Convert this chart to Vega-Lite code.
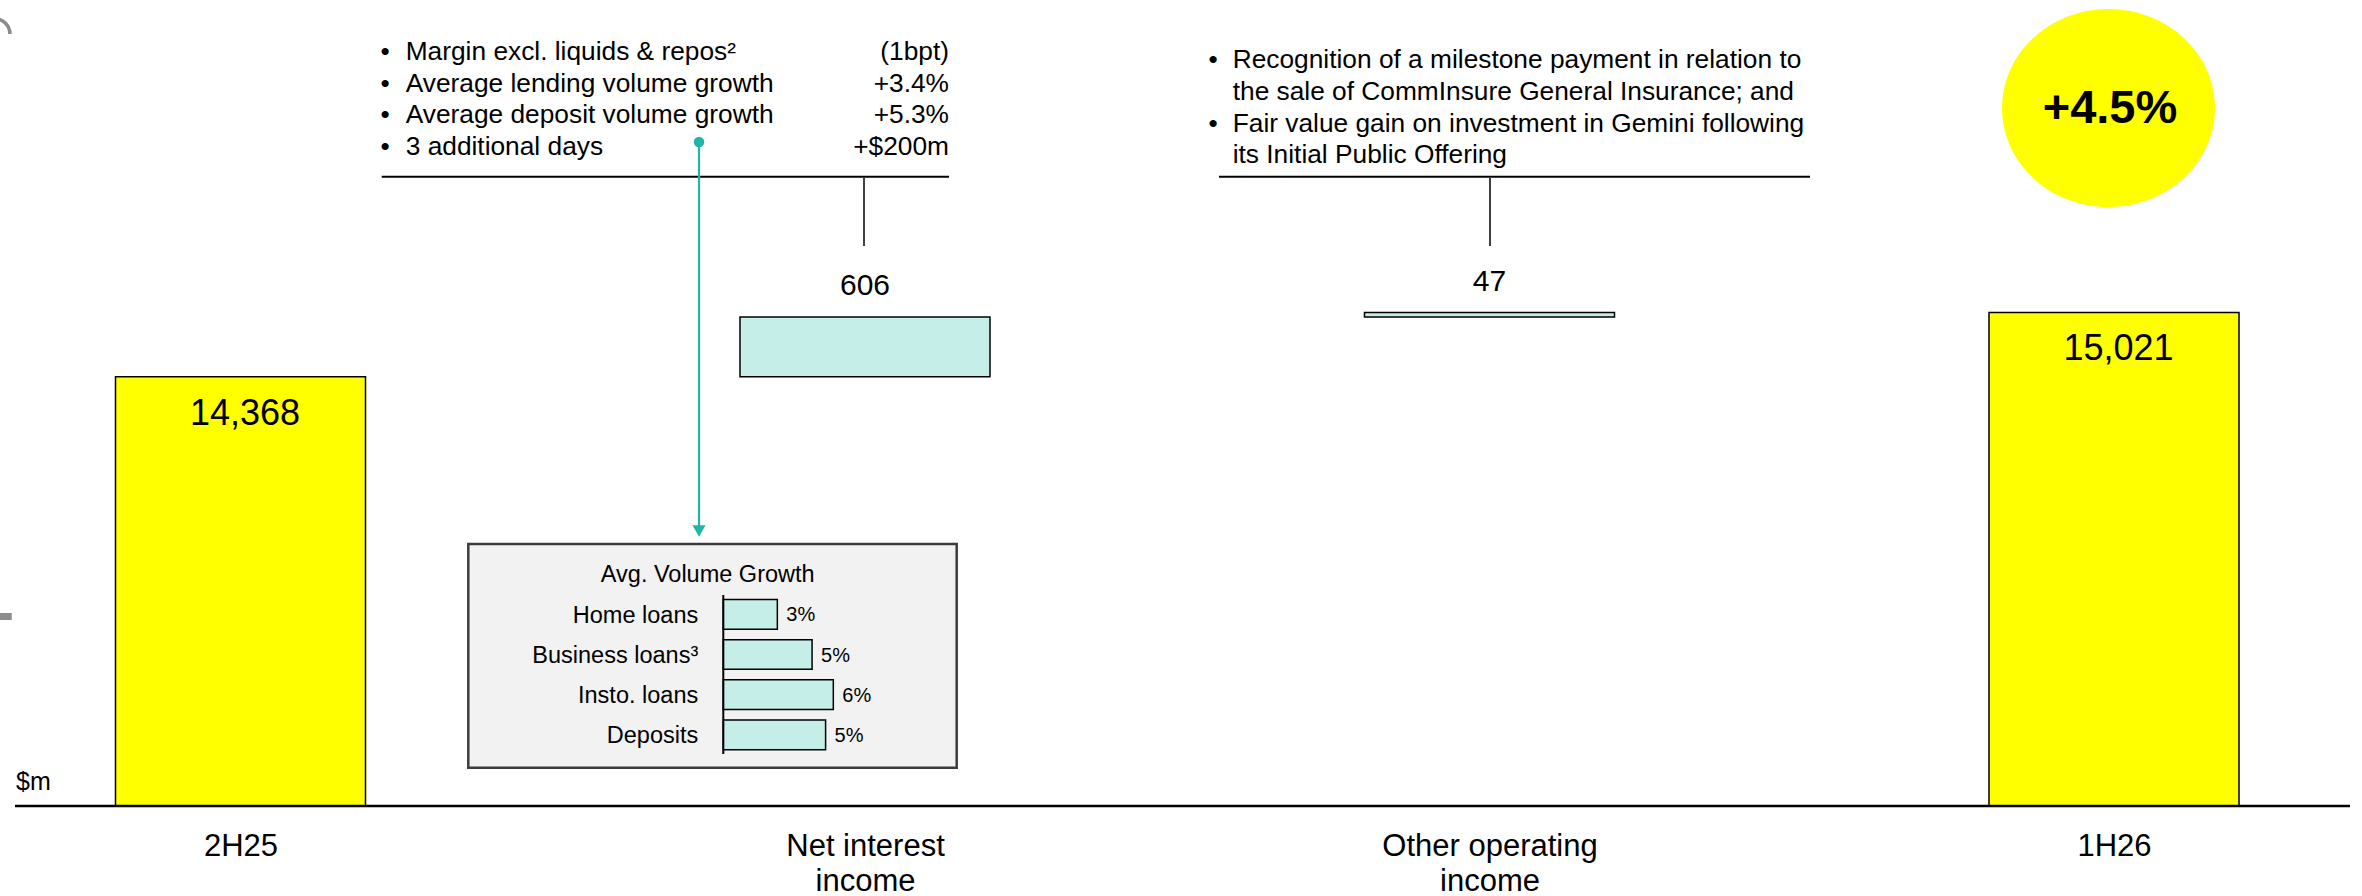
{
  "$schema": "https://vega.github.io/schema/vega-lite/v6.json",
  "width": 2362,
  "height": 806,
  "autosize": {"type": "none"},
  "padding": {"left": 0, "right": 0, "top": 0, "bottom": 90},
  "background": "#ffffff",
  "config": {"view": {"stroke": null}, "font": "Liberation Sans", "text": {"font": "Liberation Sans", "color": "#000000"}, "scale": {"continuousPadding": 0}},
  "datasets": {
    "bars": [
      {"cat": "2H25", "idx": 0, "start": 0, "end": 14368, "value": 14368, "kind": "total"},
      {"cat": "Net interest income", "idx": 1, "start": 14368, "end": 14974, "value": 606, "kind": "delta"},
      {"cat": "Other operating income", "idx": 2, "start": 14974, "end": 15021, "value": 47, "kind": "delta"},
      {"cat": "1H26", "idx": 3, "start": 0, "end": 15021, "value": 15021, "kind": "total"}
    ],
    "notes": [
      {"role": "bullet", "x": 0.231385, "y": 17589.6, "text": "•"},
      {"role": "bullet", "x": 0.231385, "y": 17267.1, "text": "•"},
      {"role": "bullet", "x": 0.231385, "y": 16945.6, "text": "•"},
      {"role": "bullet", "x": 0.231385, "y": 16623.1, "text": "•"},
      {"role": "text", "x": 0.264532, "y": 17589.6, "text": "Margin excl. liquids & repos²"},
      {"role": "text", "x": 0.264532, "y": 17267.1, "text": "Average lending volume growth"},
      {"role": "text", "x": 0.264532, "y": 16945.6, "text": "Average deposit volume growth"},
      {"role": "text", "x": 0.264532, "y": 16623.1, "text": "3 additional days"},
      {"role": "value", "x": 1.134508, "y": 17589.6, "text": "(1bpt)"},
      {"role": "value", "x": 1.134508, "y": 17267.1, "text": "+3.4%"},
      {"role": "value", "x": 1.134508, "y": 16945.6, "text": "+5.3%"},
      {"role": "value", "x": 1.134508, "y": 16623.1, "text": "+$200m"},
      {"role": "bullet", "x": 1.557246, "y": 17505.1, "text": "•"},
      {"role": "bullet", "x": 1.557246, "y": 16860.1, "text": "•"},
      {"role": "text", "x": 1.588791, "y": 17505.1, "text": "Recognition of a milestone payment in relation to"},
      {"role": "text", "x": 1.588791, "y": 17182.6, "text": "the sale of CommInsure General Insurance; and"},
      {"role": "text", "x": 1.588791, "y": 16860.1, "text": "Fair value gain on investment in Gemini following"},
      {"role": "text", "x": 1.588791, "y": 16538.6, "text": "its Initial Public Offering"}
    ],
    "rules": [
      {"role": "base", "x": -0.361089, "x2": 3.377902, "y": 10000, "y2": 10000},
      {"role": "h", "x": 0.226101, "x2": 1.134508, "y": 16402.3, "y2": 16402.3},
      {"role": "h", "x": 1.566853, "x2": 2.513211, "y": 16402.3, "y2": 16402.3},
      {"role": "v", "x": 0.998399, "x2": 0.998399, "y": 16389.1, "y2": 15697.3},
      {"role": "v", "x": 2.000801, "x2": 2.000801, "y": 16389.1, "y2": 15697.3},
      {"role": "grey", "x": -0.385108, "x2": -0.366373, "y": 11927.9, "y2": 11927.9}
    ],
    "greyArc": [{"x": -0.393595, "y": 17854.1}],
    "connector": [{"x": 0.734187, "y": 16755.3, "y2": 12848.6, "arrowY": 12797.8}],
    "box": [{"x": 0.364772, "x2": 1.146837, "y": 12665.5, "y2": 10389.7, "title": "Avg. Volume Growth", "tx": 0.748118, "ty": 12282.0}],
    "badge": [{"x": 2.991193, "y": 17101.2, "tx": 2.993595, "ty": 16948.6, "text": "+4.5%"}],
    "unit": [{"x": -0.359488, "y": 10162.8, "text": "$m"}],
    "inset": [
      {"cat": "Home loans", "growth": 0.028, "yTop": 12101.4, "yBot": 11799.2, "yMid": 11950.3},
      {"cat": "Business loans³", "growth": 0.046, "yTop": 11692.4, "yBot": 11390.2, "yMid": 11541.3},
      {"cat": "Insto. loans", "growth": 0.057, "yTop": 11283.4, "yBot": 10981.3, "yMid": 11132.3},
      {"cat": "Deposits", "growth": 0.053, "yTop": 10874.4, "yBot": 10572.3, "yMid": 10723.4}
    ],
    "insetAxis": [{"g": 0, "yTop": 12146.6, "yBot": 10529.0}]
  },
  "resolve": {"scale": {"x": "independent"}, "axis": {"x": "independent"}},
  "layer": [
    {
      "data": {"name": "box"},
      "mark": {"type": "rect", "fill": "#F2F2F2", "stroke": "#3C3C3C", "strokeWidth": 2.5},
      "encoding": {
        "x": {"field": "x", "type": "quantitative", "scale": {"domain": [-0.385108, 3.397118], "nice": false, "zero": false, "padding": 0}, "axis": null},
        "x2": {"field": "x2"},
        "y": {"field": "y", "type": "quantitative", "scale": {"domain": [10000, 18200], "nice": false, "zero": false, "clamp": true}, "axis": null},
        "y2": {"field": "y2"}
      }
    },
    {
      "data": {"name": "box"},
      "mark": {"type": "text", "align": "center", "baseline": "alphabetic", "fontSize": 23.5},
      "encoding": {
        "x": {"field": "tx", "type": "quantitative", "scale": {"domain": [-0.385108, 3.397118], "nice": false, "zero": false, "padding": 0}, "axis": null},
        "y": {"field": "ty", "type": "quantitative", "scale": {"domain": [10000, 18200], "nice": false, "zero": false, "clamp": true}, "axis": null},
        "text": {"field": "title", "type": "nominal"}
      }
    },
    {
      "data": {"name": "bars"},
      "mark": {"type": "bar", "width": 250, "stroke": "#000000", "strokeWidth": 1.5},
      "encoding": {
        "x": {
          "field": "idx", "type": "quantitative",
          "scale": {"domain": [-0.385108, 3.397118], "nice": false, "zero": false, "padding": 0},
          "axis": {
            "values": [0, 1, 2, 3],
            "labelExpr": "datum.value == 0 ? '2H25' : datum.value == 1 ? ['Net interest', 'income'] : datum.value == 2 ? ['Other operating', 'income'] : '1H26'",
            "domain": false, "ticks": false, "tickSize": 0, "grid": false, "title": null,
            "labelFontSize": 31, "labelFont": "Liberation Sans", "labelColor": "#000000",
            "labelPadding": 49, "labelBaseline": "alphabetic", "labelLineHeight": 35,
            "labelFlush": false, "labelOverlap": false, "labelBound": false, "labelLimit": 600
          }
        },
        "y": {"field": "end", "type": "quantitative", "scale": {"domain": [10000, 18200], "nice": false, "zero": false, "clamp": true}, "axis": null},
        "y2": {"field": "start"},
        "fill": {"field": "kind", "type": "nominal", "scale": {"domain": ["total", "delta"], "range": ["#FFFF00", "#C5EEE9"]}, "legend": null}
      }
    },
    {
      "data": {"name": "bars"},
      "transform": [{"filter": "datum.kind == 'total'"}],
      "mark": {"type": "text", "align": "center", "baseline": "alphabetic", "fontSize": 36, "dy": 48, "dx": 4.5},
      "encoding": {
        "x": {"field": "idx", "type": "quantitative", "scale": {"domain": [-0.385108, 3.397118], "nice": false, "zero": false, "padding": 0}, "axis": null},
        "y": {"field": "end", "type": "quantitative", "scale": {"domain": [10000, 18200], "nice": false, "zero": false, "clamp": true}, "axis": null},
        "text": {"field": "value", "type": "quantitative", "format": ","}
      }
    },
    {
      "data": {"name": "bars"},
      "transform": [{"filter": "datum.kind == 'delta'"}],
      "mark": {"type": "text", "align": "center", "baseline": "alphabetic", "fontSize": 30, "dy": -21.7},
      "encoding": {
        "x": {"field": "idx", "type": "quantitative", "scale": {"domain": [-0.385108, 3.397118], "nice": false, "zero": false, "padding": 0}, "axis": null},
        "y": {"field": "end", "type": "quantitative", "scale": {"domain": [10000, 18200], "nice": false, "zero": false, "clamp": true}, "axis": null},
        "text": {"field": "value", "type": "quantitative", "format": ","}
      }
    },
    {
      "data": {"name": "rules"},
      "transform": [{"filter": "datum.role == 'base'"}],
      "mark": {"type": "rule", "stroke": "#000000", "strokeWidth": 2.5},
      "encoding": {
        "x": {"field": "x", "type": "quantitative", "scale": {"domain": [-0.385108, 3.397118], "nice": false, "zero": false, "padding": 0}, "axis": null},
        "x2": {"field": "x2"},
        "y": {"field": "y", "type": "quantitative", "scale": {"domain": [10000, 18200], "nice": false, "zero": false, "clamp": true}, "axis": null}
      }
    },
    {
      "data": {"name": "rules"},
      "transform": [{"filter": "datum.role == 'grey'"}],
      "mark": {"type": "rule", "stroke": "#8C8C8C", "strokeWidth": 7},
      "encoding": {
        "x": {"field": "x", "type": "quantitative", "scale": {"domain": [-0.385108, 3.397118], "nice": false, "zero": false, "padding": 0}, "axis": null},
        "x2": {"field": "x2"},
        "y": {"field": "y", "type": "quantitative", "scale": {"domain": [10000, 18200], "nice": false, "zero": false, "clamp": true}, "axis": null}
      }
    },
    {
      "data": {"name": "greyArc"},
      "mark": {"type": "point", "shape": "M0,-1A1,1,0,0,1,1,0", "filled": false, "size": 930, "stroke": "#8A8A8A", "strokeWidth": 3.5, "opacity": 1},
      "encoding": {
        "x": {"field": "x", "type": "quantitative", "scale": {"domain": [-0.385108, 3.397118], "nice": false, "zero": false, "padding": 0}, "axis": null},
        "y": {"field": "y", "type": "quantitative", "scale": {"domain": [10000, 18200], "nice": false, "zero": false, "clamp": true}, "axis": null}
      }
    },
    {
      "data": {"name": "rules"},
      "transform": [{"filter": "datum.role == 'h'"}],
      "mark": {"type": "rule", "stroke": "#000000", "strokeWidth": 2},
      "encoding": {
        "x": {"field": "x", "type": "quantitative", "scale": {"domain": [-0.385108, 3.397118], "nice": false, "zero": false, "padding": 0}, "axis": null},
        "x2": {"field": "x2"},
        "y": {"field": "y", "type": "quantitative", "scale": {"domain": [10000, 18200], "nice": false, "zero": false, "clamp": true}, "axis": null}
      }
    },
    {
      "data": {"name": "rules"},
      "transform": [{"filter": "datum.role == 'v'"}],
      "mark": {"type": "rule", "stroke": "#000000", "strokeWidth": 1.5},
      "encoding": {
        "x": {"field": "x", "type": "quantitative", "scale": {"domain": [-0.385108, 3.397118], "nice": false, "zero": false, "padding": 0}, "axis": null},
        "y": {"field": "y", "type": "quantitative", "scale": {"domain": [10000, 18200], "nice": false, "zero": false, "clamp": true}, "axis": null},
        "y2": {"field": "y2"}
      }
    },
    {
      "data": {"name": "notes"},
      "transform": [{"filter": "datum.role == 'bullet'"}],
      "mark": {"type": "text", "align": "center", "baseline": "alphabetic", "fontSize": 26.3},
      "encoding": {
        "x": {"field": "x", "type": "quantitative", "scale": {"domain": [-0.385108, 3.397118], "nice": false, "zero": false, "padding": 0}, "axis": null},
        "y": {"field": "y", "type": "quantitative", "scale": {"domain": [10000, 18200], "nice": false, "zero": false, "clamp": true}, "axis": null},
        "text": {"field": "text", "type": "nominal"}
      }
    },
    {
      "data": {"name": "notes"},
      "transform": [{"filter": "datum.role == 'text'"}],
      "mark": {"type": "text", "align": "left", "baseline": "alphabetic", "fontSize": 26.3},
      "encoding": {
        "x": {"field": "x", "type": "quantitative", "scale": {"domain": [-0.385108, 3.397118], "nice": false, "zero": false, "padding": 0}, "axis": null},
        "y": {"field": "y", "type": "quantitative", "scale": {"domain": [10000, 18200], "nice": false, "zero": false, "clamp": true}, "axis": null},
        "text": {"field": "text", "type": "nominal"}
      }
    },
    {
      "data": {"name": "notes"},
      "transform": [{"filter": "datum.role == 'value'"}],
      "mark": {"type": "text", "align": "right", "baseline": "alphabetic", "fontSize": 26.3},
      "encoding": {
        "x": {"field": "x", "type": "quantitative", "scale": {"domain": [-0.385108, 3.397118], "nice": false, "zero": false, "padding": 0}, "axis": null},
        "y": {"field": "y", "type": "quantitative", "scale": {"domain": [10000, 18200], "nice": false, "zero": false, "clamp": true}, "axis": null},
        "text": {"field": "text", "type": "nominal"}
      }
    },
    {
      "data": {"name": "connector"},
      "mark": {"type": "rule", "stroke": "#1FB5A8", "strokeWidth": 2.2},
      "encoding": {
        "x": {"field": "x", "type": "quantitative", "scale": {"domain": [-0.385108, 3.397118], "nice": false, "zero": false, "padding": 0}, "axis": null},
        "y": {"field": "y", "type": "quantitative", "scale": {"domain": [10000, 18200], "nice": false, "zero": false, "clamp": true}, "axis": null},
        "y2": {"field": "y2"}
      }
    },
    {
      "data": {"name": "connector"},
      "mark": {"type": "point", "shape": "circle", "filled": true, "size": 110, "color": "#1FB5A8", "opacity": 1},
      "encoding": {
        "x": {"field": "x", "type": "quantitative", "scale": {"domain": [-0.385108, 3.397118], "nice": false, "zero": false, "padding": 0}, "axis": null},
        "y": {"field": "y", "type": "quantitative", "scale": {"domain": [10000, 18200], "nice": false, "zero": false, "clamp": true}, "axis": null}
      }
    },
    {
      "data": {"name": "connector"},
      "mark": {"type": "point", "shape": "triangle-down", "filled": true, "size": 169, "color": "#1FB5A8", "opacity": 1},
      "encoding": {
        "x": {"field": "x", "type": "quantitative", "scale": {"domain": [-0.385108, 3.397118], "nice": false, "zero": false, "padding": 0}, "axis": null},
        "y": {"field": "arrowY", "type": "quantitative", "scale": {"domain": [10000, 18200], "nice": false, "zero": false, "clamp": true}, "axis": null}
      }
    },
    {
      "data": {"name": "badge"},
      "mark": {"type": "point", "shape": "M-1,0A1,0.9296,0,1,1,1,0A1,0.9296,0,1,1,-1,0Z", "filled": true, "size": 45369, "color": "#FFFF00", "opacity": 1, "strokeWidth": 0},
      "encoding": {
        "x": {"field": "x", "type": "quantitative", "scale": {"domain": [-0.385108, 3.397118], "nice": false, "zero": false, "padding": 0}, "axis": null},
        "y": {"field": "y", "type": "quantitative", "scale": {"domain": [10000, 18200], "nice": false, "zero": false, "clamp": true}, "axis": null}
      }
    },
    {
      "data": {"name": "badge"},
      "mark": {"type": "text", "align": "center", "baseline": "alphabetic", "fontSize": 47, "fontWeight": "bold"},
      "encoding": {
        "x": {"field": "tx", "type": "quantitative", "scale": {"domain": [-0.385108, 3.397118], "nice": false, "zero": false, "padding": 0}, "axis": null},
        "y": {"field": "ty", "type": "quantitative", "scale": {"domain": [10000, 18200], "nice": false, "zero": false, "clamp": true}, "axis": null},
        "text": {"field": "text", "type": "nominal"}
      }
    },
    {
      "data": {"name": "unit"},
      "mark": {"type": "text", "align": "left", "baseline": "alphabetic", "fontSize": 25},
      "encoding": {
        "x": {"field": "x", "type": "quantitative", "scale": {"domain": [-0.385108, 3.397118], "nice": false, "zero": false, "padding": 0}, "axis": null},
        "y": {"field": "y", "type": "quantitative", "scale": {"domain": [10000, 18200], "nice": false, "zero": false, "clamp": true}, "axis": null},
        "text": {"field": "text", "type": "nominal"}
      }
    },
    {
      "data": {"name": "inset"},
      "mark": {"type": "rect", "fill": "#C5EEE9", "stroke": "#000000", "strokeWidth": 1.5},
      "encoding": {
        "x": {"field": "growth", "type": "quantitative", "scale": {"domain": [-0.374767, 0.849067], "nice": false, "zero": false, "padding": 0}, "axis": null},
        "x2": {"datum": 0},
        "y": {"field": "yTop", "type": "quantitative", "scale": {"domain": [10000, 18200], "nice": false, "zero": false, "clamp": true}, "axis": null},
        "y2": {"field": "yBot"}
      }
    },
    {
      "data": {"name": "insetAxis"},
      "mark": {"type": "rule", "stroke": "#000000", "strokeWidth": 2},
      "encoding": {
        "x": {"field": "g", "type": "quantitative", "scale": {"domain": [-0.374767, 0.849067], "nice": false, "zero": false, "padding": 0}, "axis": null},
        "y": {"field": "yTop", "type": "quantitative", "scale": {"domain": [10000, 18200], "nice": false, "zero": false, "clamp": true}, "axis": null},
        "y2": {"field": "yBot"}
      }
    },
    {
      "data": {"name": "inset"},
      "mark": {"type": "text", "align": "right", "baseline": "alphabetic", "fontSize": 23.5, "dy": 8.4},
      "encoding": {
        "x": {"datum": -0.013, "type": "quantitative", "scale": {"domain": [-0.374767, 0.849067], "nice": false, "zero": false, "padding": 0}, "axis": null},
        "y": {"field": "yMid", "type": "quantitative", "scale": {"domain": [10000, 18200], "nice": false, "zero": false, "clamp": true}, "axis": null},
        "text": {"field": "cat", "type": "nominal"}
      }
    },
    {
      "data": {"name": "inset"},
      "mark": {"type": "text", "align": "left", "baseline": "alphabetic", "fontSize": 20, "dx": 9, "dy": 7.2},
      "encoding": {
        "x": {"field": "growth", "type": "quantitative", "scale": {"domain": [-0.374767, 0.849067], "nice": false, "zero": false, "padding": 0}, "axis": null},
        "y": {"field": "yMid", "type": "quantitative", "scale": {"domain": [10000, 18200], "nice": false, "zero": false, "clamp": true}, "axis": null},
        "text": {"field": "growth", "type": "quantitative", "format": ".0%"}
      }
    }
  ]
}
